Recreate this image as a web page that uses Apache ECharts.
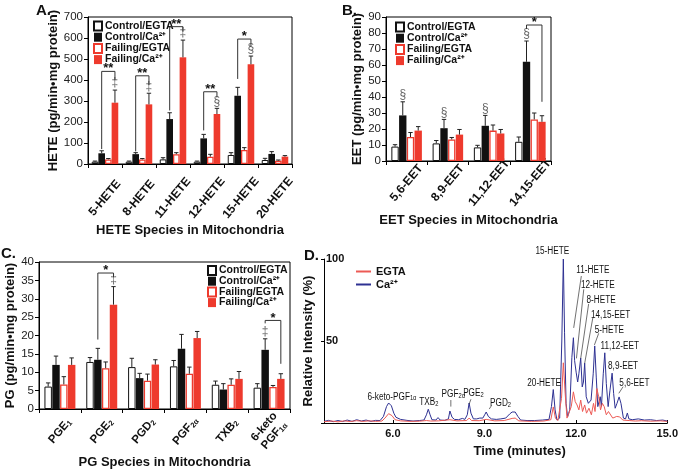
<!DOCTYPE html>
<html><head><meta charset="utf-8">
<script src="https://cdn.jsdelivr.net/npm/echarts@6/dist/echarts.min.js"></script>
<style>html,body{margin:0;padding:0;background:#fff}#c{width:681px;height:471px}</style>
</head><body><div id="c"></div>
<script>
// ================= DATA =================
const seriesNames = ['Control/EGTA', 'Control/Ca²⁺', 'Failing/EGTA', 'Failing/Ca²⁺'];

// Panel A: HETE
const heteCats = ['5-HETE', '8-HETE', '11-HETE', '12-HETE', '15-HETE', '20-HETE'];
const heteTicks = [0, 100, 200, 300, 400, 500, 600, 700];
const heteCtrlEgta = [11, 11, 22, 11, 43, 19];
const heteCtrlEgtaErr = [3, 3, 8, 3, 11, 8];
const heteCtrlCa = [51, 47, 214, 122, 325, 48];
const heteCtrlCaErr = [12, 7, 30, 19, 40, 11];
const heteFailEgta = [22, 22, 47, 35, 67, 16];
const heteFailEgtaErr = [4, 4, 7, 11, 11, 3];
const heteFailCa = [292, 284, 508, 238, 475, 35];
const heteFailCaErr = [60, 53, 82, 27, 39, 5];
const heteSymFailCa = ['‡', '‡', '‡', '§', '§', ''];
const heteBrCats = [0, 1, 2, 3, 4];
const heteBrTop = [441, 420, 654, 344, 595];
const heteBrLeft = [71, 60, 255, 160, 405];
const heteBrRight = [400, 376, 630, 317, 559];
const heteBrMark = ['**', '**', '**', '**', '*'];

// Panel B: EET
const eetCats = ['5,6-EET', '8,9-EET', '11,12-EET', '14,15-EET'];
const eetTicks = [0, 10, 20, 30, 40, 50, 60, 70, 80, 90];
const eetCtrlEgta = [9, 11, 8.5, 12];
const eetCtrlEgtaErr = [1.2, 1.8, 1.3, 3];
const eetCtrlCa = [28.5, 20.5, 22, 62];
const eetCtrlCaErr = [8.5, 5.5, 6.5, 13];
const eetFailEgta = [15, 13.5, 19, 26];
const eetFailEgtaErr = [2.8, 1.2, 3.5, 4];
const eetFailCa = [19, 16.5, 17.2, 24.5];
const eetFailCaErr = [2.5, 3.2, 2.5, 3.8];
const eetSymCtrlCa = ['§', '§', '§', '§'];
const eetBrCats = [3];
const eetBrTop = [85];
const eetBrLeft = [82.5];
const eetBrRight = [37];
const eetBrMark = ['*'];

// Panel C: PG
const pgCats = ['PGE1', 'PGE2', 'PGD2', 'PGF2α', 'TXB2', '6-keto PGF1α'];
const pgTicks = [0, 5, 10, 15, 20, 25, 30, 35, 40];
const pgCtrlEgta = [6.1, 12.8, 11.4, 11.6, 6.6, 5.8];
const pgCtrlEgtaErr = [1, 1.2, 2.4, 1.6, 1, 1.1];
const pgCtrlCa = [12, 13.4, 8.4, 16.4, 5.3, 16.1];
const pgCtrlCaErr = [2.4, 3.1, 1.3, 3.9, 1.6, 3];
const pgFailEgta = [6.7, 11.1, 7.7, 9.6, 6.6, 6];
const pgFailEgtaErr = [2.1, 1.7, 1.8, 1.8, 1.6, 0.4];
const pgFailCa = [12, 28.4, 12.1, 19.3, 8.2, 8.2];
const pgFailCaErr = [1.9, 4.9, 1.3, 1.8, 2, 1.4];
const pgSymCtrlCa = ['', '', '', '', '', '‡'];
const pgSymFailCa = ['', '‡', '', '', '', ''];
const pgBrCats = [1, 5];
const pgBrTop = [37, 24.1];
const pgBrLeft = [18.9, 23.3];
const pgBrRight = [35.9, 12.3];
const pgBrMark = ['*', '*'];

// Panel D: chromatogram [time (min), relative intensity (%)]
const chromTicks = [6, 9, 12, 15];
const chromEgta = [[3.74,0.8],[4.0,1.2],[4.2,0.7],[4.4,1.3],[4.6,0.9],[4.81,1.4],[5.02,1.0],[5.22,1.3],[5.43,1.0],[5.64,1.2],[5.74,3],[5.86,5.7],[5.97,4.5],[6.07,2],[6.25,1.3],[6.56,1.0],[6.87,1.1],[7.1,1.5],[7.16,2.6],[7.24,1.2],[7.49,1.3],[7.87,2],[8.1,1.3],[8.42,1.5],[8.5,3],[8.58,1.5],[8.83,1.4],[9.06,2.2],[9.34,1.3],[9.65,1.5],[9.91,2.8],[10.01,3],[10.13,1.3],[10.54,1.0],[10.95,1.2],[11.18,2],[11.26,9.8],[11.33,3],[11.41,1.5],[11.53,15],[11.59,36.7],[11.65,18],[11.71,3],[11.77,2.5],[11.85,10],[11.92,19],[11.98,13],[12.04,11],[12.1,8],[12.16,14],[12.22,7],[12.29,11],[12.35,6],[12.43,9],[12.51,5],[12.58,12],[12.63,7],[12.69,21],[12.75,16],[12.81,8],[12.87,12],[12.93,10],[13.0,5],[13.07,7],[13.13,6.7],[13.21,3],[13.34,4],[13.44,3.7],[13.54,1.8],[13.75,1.5],[13.95,1.2],[14.15,1.4],[14.46,1.1],[14.77,1.3],[15.0,1.0]];
const chromCa = [[3.74,1.0],[3.89,1.6],[4.04,0.8],[4.2,1.5],[4.35,0.9],[4.5,1.8],[4.66,1.0],[4.81,2.0],[4.97,1.2],[5.12,1.8],[5.28,1.0],[5.43,1.6],[5.58,1.5],[5.69,4],[5.79,10],[5.86,12.2],[5.95,10.5],[6.03,6],[6.1,3.5],[6.25,2.2],[6.46,1.6],[6.66,1.2],[6.87,1.5],[7.02,1.8],[7.1,5],[7.16,8.4],[7.22,5],[7.28,2],[7.41,1.8],[7.48,3.3],[7.55,1.8],[7.7,1.6],[7.82,2.5],[7.87,7.3],[7.94,3.5],[8.02,2.2],[8.08,3.0],[8.15,2.0],[8.28,2.8],[8.36,2.2],[8.44,5],[8.5,12.2],[8.56,6],[8.64,2.5],[8.75,2.5],[8.85,3],[8.95,3],[9.01,5],[9.06,6.7],[9.13,4],[9.23,2.5],[9.39,2.2],[9.54,2.5],[9.7,3],[9.83,5.5],[9.91,6.7],[9.96,5.8],[10.01,6.7],[10.1,4],[10.19,1.8],[10.4,1.5],[10.65,1.5],[10.91,1.8],[11.12,2.2],[11.2,10],[11.26,20.4],[11.32,8],[11.38,1.8],[11.47,3],[11.54,50],[11.59,100],[11.63,55],[11.68,12],[11.73,3.7],[11.8,8],[11.87,40],[11.92,52],[11.96,38],[12.01,31],[12.06,25],[12.1,30],[12.16,39.6],[12.21,22],[12.25,25],[12.29,36.5],[12.34,16],[12.41,12],[12.5,14],[12.57,30],[12.62,47],[12.67,28],[12.72,10],[12.8,16],[12.84,10],[12.9,30],[12.95,42.8],[13.0,24],[13.06,10],[13.12,20],[13.19,30.4],[13.24,18],[13.29,9],[13.35,12],[13.42,15.9],[13.48,12],[13.56,3],[13.63,2.5],[13.69,6.1],[13.74,2.5],[13.85,2],[14.05,2.5],[14.25,1.8],[14.45,2],[14.65,1.5],[14.85,1.8],[15.0,1.2]];
const peakText = ['15-HETE', '11-HETE', '12-HETE', '8-HETE', '14,15-EET', '5-HETE', '11,12-EET', '8,9-EET', '5,6-EET', '20-HETE', '6-keto-PGF{s|1α}', 'TXB{s|2}', 'PGF{s|2α}', 'PGE{s|2}', 'PGD{s|2}'];
const peakLabelT = [11.23, 12.56, 12.72, 12.83, 13.14, 13.10, 13.44, 13.55, 13.92, 10.96, 5.97, 7.18, 7.98, 8.64, 9.53];
const peakLabelI = [104.5, 92.9, 84.1, 75, 65.9, 56.3, 47.1, 34.3, 24.2, 24.2, 16, 12.4, 17.5, 18.1, 12];
const leaderFromT = [null, 12.18, 12.26, 12.42, 12.56, 12.75, null, null, 13.55, null, null, null, 7.90, 8.56, 9.24];
const leaderFromI = [null, 89.6, 81.5, 72.6, 64.4, 54.7, null, null, 22.1, null, null, null, 14, 14.5, 10.8];
const leaderToT = [null, 11.93, 12.02, 12.16, 12.29, 12.61, null, null, 13.41, null, null, null, 7.90, 8.50, 9.16];
const leaderToI = [null, 58, 39.4, 39.4, 36.4, 47.6, null, null, 18.1, null, null, null, 10, 11.5, 8.5];

// ================= STYLE / HELPERS =================
const FONT = "'Liberation Sans', Arial, Helvetica, sans-serif";
const RED = '#ee3a2d';
const barStyles = [
  { color: '#ffffff', borderColor: '#111', borderWidth: 1 },
  { color: '#111111' },
  { color: '#ffffff', borderColor: RED, borderWidth: 1.3 },
  { color: RED }
];
const cfgs = [
  { catGap: 0.22, barGap: 0 },
  { catGap: 0.26, barGap: 0.05 },
  { catGap: 0.26, barGap: 0.05 }
];

function barX(api, cat, i, n, catGap, barGap) {
  const band = api.size([1, 0])[0];
  const avail = band * (1 - catGap);
  const bw = avail / (n + (n - 1) * barGap);
  const c = api.coord([cat, 0])[0];
  return c - avail / 2 + bw / 2 + i * bw * (1 + barGap);
}

function barSeries(panel, idx, vals) {
  return {
    type: 'bar', name: seriesNames[idx], xAxisIndex: panel, yAxisIndex: panel, data: vals,
    barGap: (cfgs[panel].barGap * 100) + '%', barCategoryGap: (cfgs[panel].catGap * 100) + '%',
    itemStyle: barStyles[idx], z: 2
  };
}

function errSeries(panel, idx, vals, errs, syms) {
  const cfg = cfgs[panel];
  return {
    type: 'custom', xAxisIndex: panel, yAxisIndex: panel, z: 5, silent: true, clip: false,
    data: vals.map((v, k) => [k, v, errs[k]]),
    renderItem: (params, api) => {
      const cat = api.value(0), v = api.value(1), e = api.value(2);
      const x = barX(api, cat, idx, 4, cfg.catGap, cfg.barGap);
      const y0 = api.coord([cat, v])[1], y1 = api.coord([cat, v + e])[1];
      const children = [
        { type: 'line', shape: { x1: x, y1: y0, x2: x, y2: y1 }, style: { stroke: '#222', lineWidth: 1 } },
        { type: 'line', shape: { x1: x - 2.2, y1: y1, x2: x + 2.2, y2: y1 }, style: { stroke: '#222', lineWidth: 1 } }
      ];
      const s = syms ? syms[params.dataIndex] : '';
      if (s) children.push({ type: 'text', style: { text: s, x: x, y: y1 - 1, align: 'center', verticalAlign: 'bottom', fill: '#666', font: '12px ' + FONT } });
      return { type: 'group', children };
    }
  };
}

function bracketSeries(panel, cats, tops, lefts, rights, marks) {
  const cfg = cfgs[panel];
  return {
    type: 'custom', xAxisIndex: panel, yAxisIndex: panel, z: 6, silent: true, clip: false,
    data: cats.map((c, k) => [c, tops[k], lefts[k], rights[k]]),
    renderItem: (params, api) => {
      const c = api.value(0);
      const xl = barX(api, c, 1, 4, cfg.catGap, cfg.barGap);
      const xr = barX(api, c, 3, 4, cfg.catGap, cfg.barGap);
      const yt = api.coord([c, api.value(1)])[1];
      const yl = api.coord([c, api.value(2)])[1];
      const yr = api.coord([c, api.value(3)])[1];
      return { type: 'group', children: [
        { type: 'polyline', shape: { points: [[xl, yl], [xl, yt], [xr, yt], [xr, yr]] }, style: { stroke: '#333', lineWidth: 1, fill: null } },
        { type: 'text', style: { text: marks[params.dataIndex], x: (xl + xr) / 2, y: yt + 4, align: 'center', verticalAlign: 'bottom', font: 'bold 13px ' + FONT, fill: '#111' } }
      ] };
    }
  };
}

function catAxis(gridIndex, data, margin, rich) {
  return {
    type: 'category', gridIndex, data,
    axisLine: { lineStyle: { color: '#000', width: 1 } },
    axisTick: { show: true, length: 4, lineStyle: { color: '#000' } },
    axisLabel: {
      rotate: 50, interval: 0, margin, align: 'center', verticalAlign: 'middle',
      color: '#111', fontFamily: FONT, fontWeight: 'bold', fontSize: 12,
      formatter: rich || undefined,
      rich: {
        n: { fontFamily: FONT, fontWeight: 'bold', fontSize: 11.5, color: '#111', lineHeight: 13 },
        s: { fontFamily: FONT, fontWeight: 'bold', fontSize: 7.5, color: '#111', lineHeight: 7, verticalAlign: 'bottom' }
      }
    }
  };
}
function valAxis(gridIndex, ticks, name, nameGap) {
  return {
    type: 'value', gridIndex, min: ticks[0], max: ticks[ticks.length - 1], interval: ticks[1] - ticks[0],
    name, nameLocation: 'middle', nameGap, nameRotate: 90,
    nameTextStyle: { fontFamily: FONT, fontWeight: 'bold', fontSize: 13, color: '#111' },
    axisLine: { show: true, lineStyle: { color: '#000', width: 1 } },
    axisTick: { show: true, length: 4, lineStyle: { color: '#000' } },
    splitLine: { show: false },
    axisLabel: { color: '#222', fontFamily: FONT, fontSize: 11.5, margin: 5 }
  };
}
function legend(left, top, gap) {
  return {
    left, top, orient: 'vertical', itemWidth: 8, itemHeight: 9, itemGap: gap, padding: 0,
    selectedMode: false, icon: 'rect', data: seriesNames,
    textStyle: { fontFamily: FONT, fontWeight: 'bold', fontSize: 10.5, color: '#111', lineHeight: 10, padding: [0, 0, 0, -2] }
  };
}

function pgFmt(v) {
  const m = { 'PGE1': '{n|PGE}{s|1}', 'PGE2': '{n|PGE}{s|2}', 'PGD2': '{n|PGD}{s|2}', 'PGF2α': '{n|PGF}{s|2α}', 'TXB2': '{n|TXB}{s|2}', '6-keto PGF1α': '{n|6-keto}\n{n|PGF}{s|1α}' };
  return m[v] || v;
}

// ================= CHART =================
const chart = echarts.init(document.getElementById('c'), null, { renderer: 'canvas' });
const series = [];
const panels = [
  [heteCtrlEgta, heteCtrlEgtaErr, heteCtrlCa, heteCtrlCaErr, heteFailEgta, heteFailEgtaErr, heteFailCa, heteFailCaErr],
  [eetCtrlEgta, eetCtrlEgtaErr, eetCtrlCa, eetCtrlCaErr, eetFailEgta, eetFailEgtaErr, eetFailCa, eetFailCaErr],
  [pgCtrlEgta, pgCtrlEgtaErr, pgCtrlCa, pgCtrlCaErr, pgFailEgta, pgFailEgtaErr, pgFailCa, pgFailCaErr]
];
const syms = [
  [null, null, null, heteSymFailCa],
  [null, eetSymCtrlCa, null, null],
  [null, pgSymCtrlCa, null, pgSymFailCa]
];
panels.forEach((p, pi) => {
  for (let i = 0; i < 4; i++) series.push(barSeries(pi, i, p[i * 2]));
  for (let i = 0; i < 4; i++) series.push(errSeries(pi, i, p[i * 2], p[i * 2 + 1], syms[pi][i]));
});
series.push(bracketSeries(0, heteBrCats, heteBrTop, heteBrLeft, heteBrRight, heteBrMark));
series.push(bracketSeries(1, eetBrCats, eetBrTop, eetBrLeft, eetBrRight, eetBrMark));
series.push(bracketSeries(2, pgBrCats, pgBrTop, pgBrLeft, pgBrRight, pgBrMark));

series.push({ type: 'line', name: 'EGTA', xAxisIndex: 3, yAxisIndex: 3, data: chromEgta, showSymbol: false, symbol: 'none', lineStyle: { color: '#ec5a55', width: 1 }, itemStyle: { color: '#ec5a55' }, z: 3 });
series.push({ type: 'line', name: 'Ca²⁺', xAxisIndex: 3, yAxisIndex: 3, data: chromCa, showSymbol: false, symbol: 'none', lineStyle: { color: '#2e3192', width: 1 }, itemStyle: { color: '#2e3192' }, z: 2 });

function dPoint(api, t, I) {
  // linear mapping, extrapolated above the axis maximum for labels sitting over the tallest peak
  const p = api.coord([t, Math.min(I, 100)]);
  if (I > 100) p[1] -= api.size([0, I - 100])[1];
  return p;
}
series.push({
  type: 'custom', xAxisIndex: 3, yAxisIndex: 3, z: 6, silent: true, clip: false,
  data: peakText.map((t, k) => [peakLabelT[k], Math.min(peakLabelI[k], 100)]),
  renderItem: (params, api) => {
    const k = params.dataIndex;
    const p = dPoint(api, peakLabelT[k], peakLabelI[k]);
    const ch = [{ type: 'text', x: p[0], y: p[1], scaleX: 0.82, style: { text: peakText[k], x: 0, y: 0, align: 'center', verticalAlign: 'middle', fill: '#111', font: '10px ' + FONT,
      rich: { s: { fontSize: 7, fontFamily: FONT, fill: '#111', verticalAlign: 'bottom', lineHeight: 8 } } } }];
    if (leaderFromT[k] !== null) {
      const a = dPoint(api, leaderFromT[k], leaderFromI[k]);
      const b = dPoint(api, leaderToT[k], leaderToI[k]);
      ch.push({ type: 'line', shape: { x1: a[0], y1: a[1], x2: b[0], y2: b[1] }, style: { stroke: '#333', lineWidth: 0.7 } });
    }
    return { type: 'group', children: ch };
  }
});

const nameStyle = { fontFamily: FONT, fontWeight: 'bold', fontSize: 13, color: '#111' };
chart.setOption({
  animation: false,
  backgroundColor: '#fff',
  textStyle: { fontFamily: FONT },
  grid: [
    { left: 88, top: 17, width: 204, height: 147, show: true, borderColor: '#000', borderWidth: 1, backgroundColor: 'transparent' },
    { left: 386, top: 17, width: 165, height: 144, show: true, borderColor: '#000', borderWidth: 1, backgroundColor: 'transparent' },
    { left: 39, top: 262, width: 251, height: 147, show: true, borderColor: '#000', borderWidth: 1, backgroundColor: 'transparent' },
    { left: 324, top: 259, width: 351, height: 164, show: false }
  ],
  xAxis: [
    Object.assign(catAxis(0, heteCats, 34), { name: 'HETE Species in Mitochondria', nameLocation: 'middle', nameGap: 50, nameTextStyle: nameStyle }),
    Object.assign(catAxis(1, eetCats, 22), { name: 'EET Species in Mitochondria', nameLocation: 'middle', nameGap: 53, nameTextStyle: nameStyle }),
    Object.assign(catAxis(2, pgCats, 22, pgFmt), { name: 'PG Species in Mitochondria', nameLocation: 'middle', nameGap: 45, nameTextStyle: nameStyle }),
    {
      type: 'value', gridIndex: 3, min: 3.74, max: 15,
      name: 'Time (minutes)', nameLocation: 'middle', nameGap: 22,
      nameTextStyle: Object.assign({}, nameStyle, { padding: [0, 0, 0, 48] }),
      axisLine: { show: true, onZero: false, lineStyle: { color: '#000', width: 1 } },
      axisTick: { show: true, inside: true, length: 3, customValues: chromTicks, lineStyle: { color: '#000' } },
      axisLabel: { customValues: chromTicks, formatter: v => v.toFixed(1), fontFamily: FONT, fontWeight: 'bold', fontSize: 11, color: '#111', margin: 5 },
      splitLine: { show: false }
    }
  ],
  yAxis: [
    valAxis(0, heteTicks, 'HETE (pg/min•mg protein)', 19),
    valAxis(1, eetTicks, 'EET (pg/min•mg protein)', 15),
    valAxis(2, pgTicks, 'PG (pg/min•mg protein)', 13),
    {
      type: 'value', gridIndex: 3, min: 0, max: 100, interval: 50,
      name: 'Relative Intensity (%)', nameLocation: 'middle', nameGap: 8, nameRotate: 90, nameTextStyle: nameStyle,
      axisLine: { show: true, lineStyle: { color: '#000', width: 1 } },
      axisTick: { show: true, length: 3, lineStyle: { color: '#000' } },
      axisLabel: { inside: true, formatter: v => (v === 0 ? '' : String(v)), fontFamily: FONT, fontWeight: 'bold', fontSize: 11, color: '#111', margin: 2 },
      splitLine: { show: false }
    }
  ],
  legend: [
    legend(93, 20.5, 0.2),
    legend(395, 21.5, 0.2),
    legend(207, 265, -0.3),
    {
      left: 356, top: 266, orient: 'vertical', itemWidth: 15, itemHeight: 2, itemGap: 2, padding: 0,
      selectedMode: false, icon: 'rect', data: ['EGTA', 'Ca²⁺'],
      textStyle: { fontFamily: FONT, fontWeight: 'bold', fontSize: 11, color: '#111', lineHeight: 10 }
    }
  ],
  graphic: [
    { type: 'text', left: 36, top: 3, style: { text: 'A.', font: 'bold 15px ' + FONT, fill: '#111' } },
    { type: 'text', left: 342, top: 3, style: { text: 'B.', font: 'bold 15px ' + FONT, fill: '#111' } },
    { type: 'text', left: 1, top: 246, style: { text: 'C.', font: 'bold 15px ' + FONT, fill: '#111' } },
    { type: 'text', left: 304, top: 248, style: { text: 'D.', font: 'bold 15px ' + FONT, fill: '#111' } }
  ],
  series
});
</script>
</body></html>
